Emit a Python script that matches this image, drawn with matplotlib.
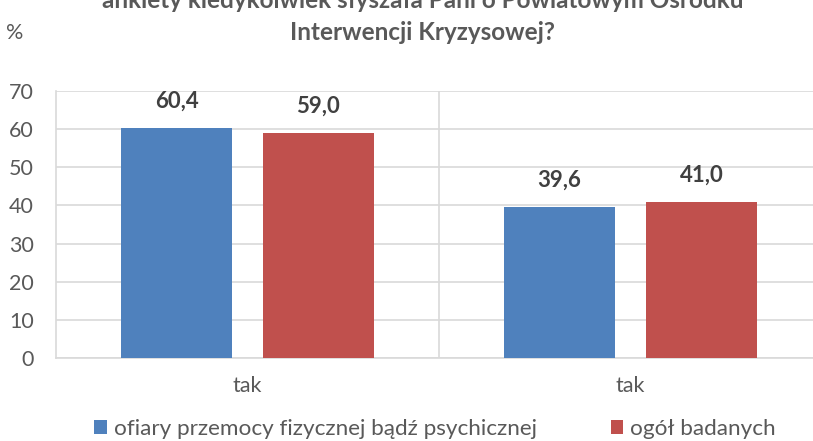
import matplotlib
matplotlib.use("Agg")
import matplotlib.pyplot as plt
import numpy as np

categories = ["tak", "tak"]
series_names = ["ofiary przemocy fizycznej bądź psychicznej", "ogół badanych"]
victims = [60.4, 39.6]
overall = [59.0, 41.0]
y_ticks = [0, 10, 20, 30, 40, 50, 60, 70]
title_line1 = "ankiety kiedykolwiek słyszała Pani o Powiatowym Ośrodku"
title_line2 = "Interwencji Kryzysowej?"

colors = ["#4F81BD", "#C0504D"]
FONT = ["Lato", "DejaVu Sans"]
plt.rcParams['font.family'] = FONT

W, H = 813, 441
fig = plt.figure(figsize=(W / 100, H / 100), dpi=100)
left, right, top, bottom = 56, 822, 91, 358
ax = fig.add_axes([left / W, 1 - bottom / H, (right - left) / W, (bottom - top) / H])

x = np.arange(len(categories)) + 0.5
bw = 0.29
off = 0.185
b1 = ax.bar(x - off, victims, bw, color=colors[0], label=series_names[0], zorder=3)
b2 = ax.bar(x + off, overall, bw, color=colors[1], label=series_names[1], zorder=3)

for bars, vals in ((b1, victims), (b2, overall)):
    for r, v in zip(bars, vals):
        ax.annotate(f"{v:.1f}".replace(".", ","), (r.get_x() + r.get_width() / 2, v),
                    xytext=(0, 19), textcoords="offset points", ha="center", va="center",
                    fontsize=16, fontweight="bold", color="#404040")

ax.set_xlim(0, len(categories))
ax.set_ylim(0, 70)
ax.set_yticks(y_ticks)
ax.set_yticklabels([str(t) for t in y_ticks], fontsize=15.5, color="#595959")
ax.set_xticks(x)
ax.set_xticklabels(categories, fontsize=15.5, color="#595959")
ax.tick_params(axis="both", length=0)
ax.tick_params(axis="y", pad=16)
ax.tick_params(axis="x", pad=13)
ax.grid(axis="y", color="#D9D9D9", linewidth=1.2, zorder=0)
for i in range(1, len(categories)):
    ax.axvline(i, color="#D9D9D9", linewidth=1.2, zorder=0)
for s in ["top", "right"]:
    ax.spines[s].set_visible(False)
ax.spines["left"].set_color("#D9D9D9")
ax.spines["left"].set_linewidth(1.2)
ax.spines["bottom"].set_color("#D9D9D9")
ax.spines["bottom"].set_linewidth(1.2)

fig.text(423 / W, 1 - 1 / H, title_line1, ha="center", va="center", fontsize=17.5,
         fontweight="bold", color="#595959")
fig.text(423 / W, 1 - 33 / H, title_line2, ha="center", va="center", fontsize=17.5,
         fontweight="bold", color="#595959")
fig.text(15 / W, 1 - 33 / H, "%", ha="center", va="center", fontsize=15.5, color="#595959")

handles = [b1, b2]
fig.legend(handles, series_names, loc="center", bbox_to_anchor=(435 / W, 1 - 429 / H),
           ncol=2, frameon=False, fontsize=16.2, labelcolor="#595959",
           handlelength=0.55, handleheight=0.55, handletextpad=0.3, columnspacing=3.3,
           borderpad=0, borderaxespad=0)

fig.savefig("out.png", dpi=100)
